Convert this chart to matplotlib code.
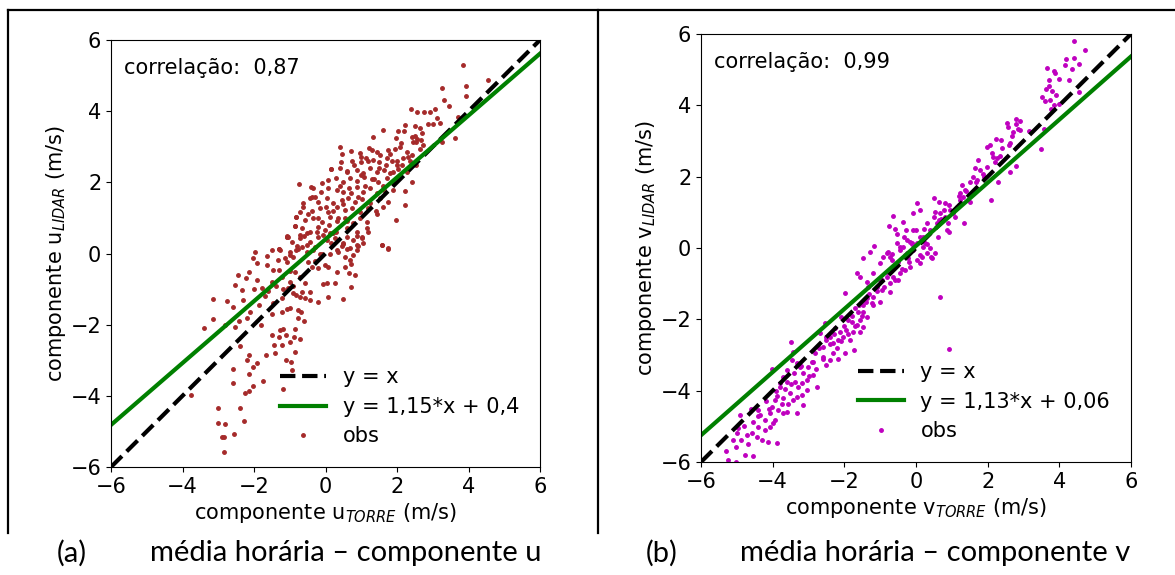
import matplotlib
matplotlib.use("Agg")
import matplotlib.pyplot as plt
from matplotlib.lines import Line2D

# ---- component u: hourly means, tower (x) vs LIDAR (y) ----
u_torre = [
    3.84, 3.92, 3.26, 3.94, 3.32, 3.46, 2.39, 2.56, 2.75, 2.92, 3.07, 3.11, 3.01, 2.86, 3.21, 3.70,
    3.63, 3.25, 2.50, 2.63, 2.70, 2.21, 2.20, 2.04, 1.62, 1.34, 1.97, 2.41, 2.46, 2.56, 0.41, 0.46,
    0.15, -0.73, -0.41, -0.37, -0.64, -0.71, -0.83, -0.86, -1.09, -1.04, -1.29,
    0.71, 0.97, 1.22, 1.43, 1.53, 1.76, 1.95, 2.07, 2.27, 2.41, 2.63, 2.74, 2.67, 2.53,
    0.44, 0.73, 0.99, 1.14, 1.34, 1.51, 1.71, 1.85, 1.99, 2.16, 2.37, 2.52, 2.13,
    0.16, 0.41, 0.61, 0.89, 1.06, 1.25, 1.43, 1.64, 1.81, 2.04, 2.27,
    -0.10, 0.08, 0.30, 0.50, 0.69, 0.87, 1.08, 1.29, 1.48, 1.71, 1.90, 2.42,
    -0.34, -0.12, 0.08, 0.31, 0.48, 0.67, 0.87, 1.06, 1.25, 1.43, 1.64, 1.90, 2.21,
    -0.43, -0.20, 0.03, 0.22, 0.45, 0.64, 0.83, 1.01, 1.25, 1.53, 1.75, 2.23,
    -0.62, -0.38, -0.15, 0.08, 0.31, 0.55, 0.73, 0.97, 1.20, 1.43,
    -0.82, -0.57, -0.34, -0.10, 0.13, 0.31, 0.55, 0.78, 0.97, 1.15, 1.96,
    -0.86, -0.66, -0.43, -0.20, -0.01, 0.22, 0.59, 0.87, 1.15,
    -1.08, -0.94, -0.71, -0.43, -0.20, 0.03, 0.27, 0.50, 0.78, 1.01, 1.57,
    -1.29, -0.99, -0.76, -0.52, -0.29, 0.36, 0.59, 0.87, 1.76,
    -1.09, -0.71, -0.53, -0.25, -0.06, 0.13, 0.59, 0.87, 1.01, 1.06, 0.87, 0.69, 0.50, 0.31, 0.13,
    -0.15, -0.34, -0.53, -0.67, -0.83, -0.99, -1.13, -1.27, -1.32, -1.51, -1.63, -1.97, -2.02, -1.93,
    -1.65, -1.46, -1.29, -1.09, -0.90, -0.48, -0.39, -0.20, -0.01, 0.08, 0.31, 0.55, 0.67, 0.83,
    1.57, 1.76, 0.78, 0.69,
    -2.44, -2.13, -2.23, -2.53, -2.34, -1.93, -1.79, -1.60, -1.38, -1.23, -0.99, -0.85, -0.71, -0.57,
    -0.67, -0.43, -0.83, -0.71, -0.57, -0.43, -0.20, -0.06, 0.03, 0.27, 0.08, 0.48, 0.70, -2.75,
    -3.14, -1.46, -1.23, -1.04, -0.92,
    -3.16, -3.40, -2.53, -2.42, -2.20, -2.11, -1.85, -1.51, -1.22, -1.07, -0.99, -0.76, -0.69, -0.76,
    -0.85, -1.27, -1.20, -1.29, -1.11, -0.87,
    -1.43, -1.40, -1.23, -1.67, -2.15, -2.20, -1.93, -2.04, -2.58, -2.13, -2.60, -1.76, -2.02, -2.25,
    -2.13, -0.85, -0.97, -0.93, -1.18, -3.75,
    -3.01, -2.38, -3.01, -2.82, -2.27, -2.90, -2.83, -2.55, -2.85,
    0.20, 0.35, 0.50, 0.60, 0.70, 0.90, 1.00, 1.10, 1.20, 1.35, 1.50, 1.60, 1.70, 1.80, 1.90, 2.00,
    2.10, 2.30, 2.50, 0.10, 0.00, -0.20, -0.30, -0.50, 0.40, 0.60, 0.80, 1.00, 1.30, 0.15, 0.30, 0.45,
    -0.10, -0.30, 0.70, 0.90, 1.20, 1.40, 1.60, 0.55, -0.60, -0.80, -1.00, -0.90, -1.20, -1.50, -1.70,
    -2.00, -2.30, -2.60, -0.60, -0.70, -1.00, -1.50, -1.80, -2.40, -2.80, -1.10, 4.55,
]
u_lidar = [
    5.30, 4.71, 4.65, 4.44, 4.31, 4.14, 4.05, 3.97, 3.97, 3.97, 4.06, 3.82, 3.64, 3.64, 3.66, 3.85,
    3.25, 3.12, 3.58, 3.54, 3.38, 3.61, 3.44, 3.44, 3.46, 3.27, 3.25, 3.28, 3.12, 3.22, 3.00, 2.81,
    2.37, 1.95, 1.86, 1.60, 1.42, 1.18, 1.02, 0.77, 0.47, 0.47, 0.12,
    2.89, 2.83, 2.96, 2.86, 2.77, 2.91, 2.93, 2.98, 2.86, 2.77, 2.94, 3.05, 3.19, 3.12,
    2.58, 2.60, 2.56, 2.67, 2.63, 2.56, 2.67, 2.60, 2.49, 2.67, 2.60, 2.49, 2.49,
    2.37, 2.39, 2.32, 2.35, 2.25, 2.41, 2.28, 2.35, 2.25, 2.37, 2.30,
    1.97, 2.07, 2.13, 2.02, 2.11, 2.04, 2.16, 2.09, 2.02, 2.11, 1.97, 2.02,
    1.83, 1.74, 1.85, 1.78, 1.72, 1.83, 1.88, 1.74, 1.83, 1.69, 1.78, 1.79, 1.77,
    1.55, 1.46, 1.55, 1.41, 1.50, 1.57, 1.46, 1.53, 1.41, 1.55, 1.46, 1.36,
    1.32, 1.19, 1.27, 1.18, 1.32, 1.22, 1.29, 1.18, 1.27, 1.10,
    1.02, 0.94, 0.99, 0.89, 1.03, 0.91, 0.99, 0.85, 0.99, 0.89, 0.93,
    0.77, 0.71, 0.61, 0.75, 0.66, 0.57, 0.71, 0.61, 0.73,
    0.47, 0.33, 0.43, 0.33, 0.47, 0.38, 0.44, 0.28, 0.38, 0.43, 0.24,
    0.12, 0.05, 0.14, 0.05, 0.19, 0.05, 0.14, 0.10, 0.14,
    0.49, 0.52, 0.59, 0.61, 0.52, 0.57, 0.47, 0.49, 0.45, 0.29, 0.24, 0.15, 0.29, 0.10, 0.00,
    0.00, 0.10, 0.24, 0.19, 0.10, -0.04, -0.14, 0.10, -0.18, 0.10, -0.07, 0.05, -0.14, -0.28,
    -0.32, -0.46, -0.45, -0.23, -0.09, -0.23, -0.37, -0.42, -0.32, -0.37, -0.51, -0.37, -0.54, -0.60,
    0.24, 0.15, -0.04, -0.18,
    -0.60, -0.51, -0.68, -0.89, -1.03, -0.74, -0.98, -1.05, -0.91, -0.65, -0.79, -0.51, -0.65, -0.84,
    -1.07, -1.07, -1.17, -1.21, -1.26, -1.31, -1.35, -0.86, -0.84, -0.82, -1.21, -1.27, -0.93, -1.33,
    -1.27, -1.40, -1.26, -0.98, -1.12,
    -1.85, -2.10, -2.06, -1.89, -1.82, -1.64, -1.45, -1.70, -1.65, -1.57, -1.53, -1.59, -1.63, -1.82,
    -2.13, -2.15, -2.11, -2.34, -2.29, -2.34,
    -2.57, -2.81, -2.57, -2.85, -2.86, -2.99, -3.07, -3.20, -3.24, -3.39, -3.63, -3.58, -3.73, -3.93,
    -3.87, -2.78, -3.04, -3.26, -3.80, -3.99,
    -4.33, -4.33, -4.75, -4.78, -4.70, -5.17, -5.15, -5.08, -5.57,
    1.20, 1.00, 1.40, 0.90, 1.70, 1.60, 2.20, 1.90, 2.60, 2.10, 2.40, 1.90, 2.50, 2.80, 2.30, 2.60,
    3.10, 2.70, 3.30, 0.80, 1.30, 1.00, 1.60, 1.10, 1.90, 2.30, 2.50, 2.70, 2.90, 0.30, 0.60, 0.20,
    0.00, -0.20, -0.30, 0.20, 0.60, 1.20, 1.30, -0.10, 0.50, 0.20, -0.50, -0.90, -1.00, -0.80, -1.20,
    -1.00, -1.30, -1.50, -1.90, -2.40, -2.50, -2.30, -2.00, -2.60, -2.00, -3.00, 4.88,
]

# ---- component v: hourly means, tower (x) vs LIDAR (y) ----
v_torre = [
    4.40, 4.71, 4.18, 4.42, 4.55, 4.16, 4.35, 3.65, 3.84, 3.87, 3.98, 4.28, 3.70, 3.63, 3.79, 4.54,
    3.51, 3.60, 3.74, 3.84, 3.98, 3.76, 3.56, 3.48,
    2.78, 2.91, 2.53, 2.80, 2.58, 2.86, 2.72, 2.67, 2.63, 3.14, 2.38, 2.22, 2.07, 1.98, 2.12, 2.26,
    2.16, 2.35, 2.78, 2.61, 2.30, 2.10, 1.98, 1.79, 1.88, 1.74, 1.65, 1.59, 1.67, 1.51, 1.29, 1.23,
    1.19, 1.31, 1.37, 1.23, 1.14, 1.09, 1.33, 1.03, 0.81, 0.91, 0.95, 0.77, 0.67, 0.53, 0.49, 0.63,
    0.51, 0.63, 0.81, 0.86, 0.91, 0.58, 0.30, 0.21, 0.02, 0.12, -0.07, 0.00, -0.09, -0.27, -0.35,
    -0.63, -0.74, -0.58, -0.53, -0.33, -0.26, -0.12, 0.12, 0.26, 0.40, 0.53, 0.44, 0.16, -0.44,
    -0.77, -0.67, -0.91,
    -1.17, -1.29, -1.49, -1.66, -1.56, -1.01, -0.82, -0.73, -0.68, -0.54, -0.45, -0.36, -0.17, -0.26,
    -0.22, -0.08, 0.02, 0.20, 0.30, 0.41, 0.11, 0.02, -0.17, -0.31, -0.45, -0.63, -0.49, -0.73, -0.96,
    -0.82, -1.19, -1.38, -1.33, -1.10, -0.96, -0.73, -1.19, -1.38, -1.47, -1.24, -1.01, -1.70, -1.61,
    -1.47, -1.38, -1.56, -1.66, -1.47, -1.56, -1.75, -1.80, -1.89, -1.98, -2.08, -1.94, -2.03, -2.12,
    -2.26, -2.17, -2.31, -2.40, -2.50, -2.59, -2.68, -2.54, -1.84, -1.73, -1.98, -2.17, -2.31, -2.40,
    -2.50, -2.59, -2.82, -2.87, -3.01, -3.15, -3.24, -3.33, -3.47, -3.50, -3.43, -3.61, -3.70, -3.61,
    -3.38, -3.19, -3.05, -2.87, -2.77, -3.05, -3.19, -3.33, -3.43, -3.52, -3.66, -3.80, -3.94, -3.75,
    -3.56, -3.70, -3.84, -4.03, -4.08, -3.94, -4.08, -4.22, -4.36, -4.40, -4.54, -4.59, -4.45, -4.31,
    -4.12, -3.89, -4.22, -4.73, -4.87, -5.01, -4.91, -4.96, -5.10, -5.24, -5.03, -4.77, -4.56, -3.33,
    -3.15, -4.03, -3.80, -3.87, -4.40, 0.67, 0.93,
    -5.30, -5.00, -4.80, -4.60, -4.40, -4.20, -4.00, -3.90, -3.70, -3.50, -3.40, -3.20, -3.00, -2.90,
    -2.70, -2.60, -2.40, -2.30, -2.20, -2.00, -1.90, -1.80, -1.70, -1.60, -1.50, -1.40, -1.30, -1.20,
    -1.10, -1.00, -0.90, -0.80, -0.70, -0.60, -0.50, -0.40, -0.30, -0.20, -0.10, 0.10, 0.20, 0.30,
    0.40, 0.60, 0.70, 0.90, 1.00, 1.20, 1.40, 1.50, 1.70, 1.90, 2.20, 2.40, 2.60, 2.90, 3.70, 3.90,
    -3.60, -4.10, -4.70, -3.30, -2.80, -2.50, -2.10,
]
v_lidar = [
    5.80, 5.55, 5.29, 5.33, 5.16, 5.12, 5.01, 5.06, 4.97, 4.90, 4.75, 4.71, 4.54, 4.45, 4.41, 4.38,
    4.24, 4.12, 4.15, 4.01, 4.05, 3.91, 3.35, 2.77,
    3.61, 3.57, 3.51, 3.47, 3.40, 3.35, 3.26, 3.14, 2.93, 3.29, 3.03, 3.07, 2.89, 2.84, 2.67, 2.51,
    2.56, 2.58, 2.30, 2.14, 1.86, 1.34, 2.28, 2.19, 2.07, 2.48, 2.23, 2.00, 1.86, 1.86, 1.76, 1.53,
    1.46, 1.44, 1.62, 1.34, 1.16, 0.88, 0.69, 0.99, 1.25, 1.20, 1.06, 1.06, 0.97, 1.02, 1.39, 1.30,
    0.88, 0.78, 0.88, 0.50, 0.46, 0.69, 0.69, 0.52, 1.25, 1.06, 0.99, 0.50, 0.50, 0.50, 0.74,
    0.90, 0.61, 0.52, 0.39, 0.32, 0.22, 0.13, 0.32, 0.13, -0.01, -0.13, -0.29, -0.25, 0.04,
    -0.10, -0.17, -0.25,
    0.06, -0.10, -0.29, -0.71, -0.80, -0.43, -0.15, -0.24, -0.34, 0.13, -0.06, 0.04, 0.18, -0.15,
    -0.29, -0.06, 0.13, 0.04, -0.13, -0.24, -0.43, -0.34, -0.52, -0.62, -0.71, -0.80, -0.90, -0.99, -0.90,
    -0.66, -0.71, -0.94, -1.08, -1.08, -1.18, -1.22, -1.36, -1.41, -1.60, -1.55, -1.50, -1.69, -1.79,
    -1.79, -1.93, -2.02, -2.16, -2.21, -2.35, -2.35, -2.07, -2.02, -1.27, -1.93, -2.30, -2.49, -2.35,
    -2.25, -2.58, -2.67, -2.49, -2.58, -2.77, -2.39, -2.11, -2.58, -2.86, -2.95, -3.12, -2.95, -3.14,
    -3.28, -3.05, -2.95, -3.19, -3.33, -3.51, -3.33, -3.23, -3.14, -2.63, -2.91, -3.42, -3.61, -3.75,
    -3.75, -3.79, -3.70, -3.56, -3.89, -3.98, -4.12, -4.17, -4.26, -4.07, -3.94, -3.89, -4.26, -4.36,
    -4.36, -4.64, -4.54, -4.45, -4.64, -4.82, -5.01, -4.82, -4.68, -5.01, -4.87, -5.20, -5.29, -5.38,
    -5.43, -5.46, -5.10, -5.24, -5.38, -5.57, -4.68, -5.06, -5.38, -5.94, -5.99, -5.80, -5.83, -4.64,
    -4.40, -3.40, -3.79, -4.15, -4.54, -1.37, -2.84,
    -5.70, -5.20, -5.00, -4.50, -4.70, -4.30, -4.90, -4.00, -4.20, -3.80, -3.50, -3.30, -3.60, -3.20,
    -2.80, -3.10, -2.70, -2.40, -2.80, -2.20, -2.40, -1.90, -2.20, -1.60, -1.90, -1.50, -1.30, -1.60,
    -1.20, -0.90, -1.10, -0.80, -0.60, -0.90, -0.40, -0.60, -0.20, -0.40, 0.10, -0.20, 0.30, 0.10,
    0.50, 0.30, 0.80, 0.70, 1.00, 1.20, 1.60, 1.30, 1.90, 2.00, 2.40, 2.80, 2.90, 3.30, 4.70, 4.30,
    -4.60, -4.50, -5.50, -3.90, -3.40, -2.50, -2.60,
]

# fitted lines, as written in the legends
fit_u = (1.15, 0.4)
fit_v = (1.13, 0.06)
corr_u = "0,87"
corr_v = "0,99"

ticks = [-6, -4, -2, 0, 2, 4, 6]
lims = (-6, 6)

FS = 15
W, H = 1175, 575
fig = plt.figure(figsize=(W / 100, H / 100), dpi=100)
fig.patch.set_facecolor("white")


def fmt(v):
    return f"{v:g}".replace(".", ",")


def panel(rect, xs, ys, color, fit, corr, comp):
    ax = fig.add_axes(rect)
    slope, icpt = fit
    line_x = [lims[0], lims[1]]
    ax.plot(line_x, line_x, "--", color="black", lw=3, label="y = x")
    ax.plot(line_x, [x / slope + icpt for x in line_x], "-", color="green", lw=3,
            label=f"y = {fmt(slope)}*x + {fmt(icpt)}")
    ax.plot(xs, ys, ".", color=color, ms=5, label="obs", zorder=1)
    ax.set_xlim(*lims)
    ax.set_ylim(*lims)
    ax.set_xticks(ticks)
    ax.set_yticks(ticks)
    ax.tick_params(labelsize=FS)
    ax.set_xlabel(f"componente {comp}$_{{TORRE}}$ (m/s)", fontsize=FS, labelpad=3)
    ax.set_ylabel(f"componente {comp}$_{{LIDAR}}$ (m/s)", fontsize=FS, labelpad=2)
    ax.text(0.03, 0.935, f"correlação:  {corr}", transform=ax.transAxes,
            fontsize=FS, va="center", ha="left")
    ax.legend(loc="lower right", frameon=False, fontsize=FS, handlelength=2.2,
              labelspacing=0.45, borderaxespad=0.6)
    return ax


panel([111 / W, 1 - 467 / H, 429 / W, 427 / H], u_torre, u_lidar,
      "brown", fit_u, corr_u, "u")
panel([701 / W, 1 - 462 / H, 430 / W, 428 / H], v_torre, v_lidar,
      "m", fit_v, corr_v, "v")


# surrounding table lines
def px_line(x0, y0, x1, y1):
    fig.add_artist(Line2D([x0 / W, x1 / W], [1 - y0 / H, 1 - y1 / H],
                          transform=fig.transFigure, color="black", lw=1.6))


px_line(8, 10, 1175, 10)
px_line(8, 10, 8, 533)
px_line(598, 10, 598, 533)

# captions
cap = dict(fontsize=21, family="Lato", va="center")
fig.text(72 / W, 1 - 553 / H, "(a)", ha="center", **cap)
fig.text(150 / W, 1 - 553 / H, "média horária – componente u", ha="left", **cap)
fig.text(662 / W, 1 - 553 / H, "(b)", ha="center", **cap)
fig.text(740 / W, 1 - 553 / H, "média horária – componente v", ha="left", **cap)

fig.savefig("out.png", dpi=100, facecolor="white")
